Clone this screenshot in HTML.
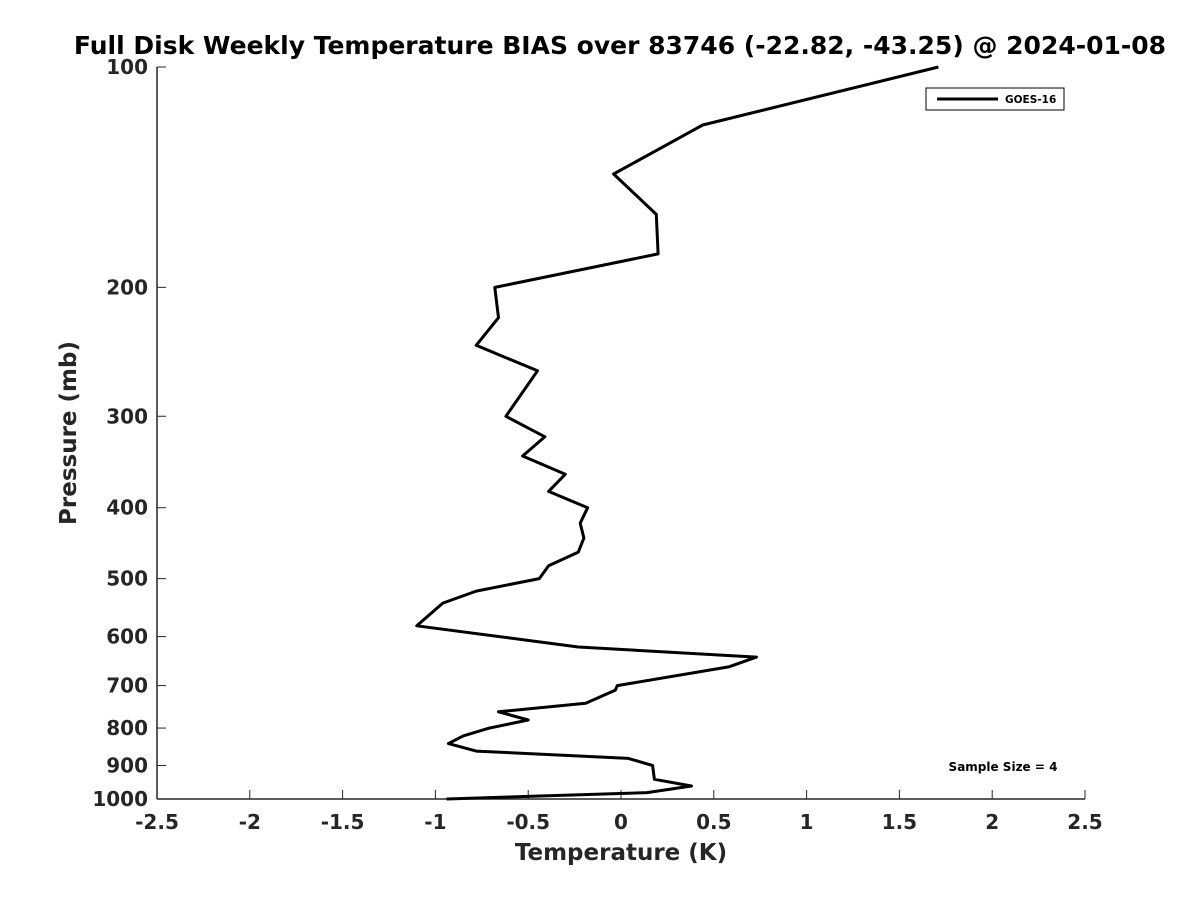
<!DOCTYPE html>
<html><head><meta charset="utf-8"><style>
body{margin:0;background:#fff;}
svg{display:block;font-family:"DejaVu Sans","Liberation Sans",sans-serif;font-weight:bold;}
</style></head><body>
<svg id="chart" width="1200" height="900" xmlns="http://www.w3.org/2000/svg">
<text x="620" y="54" text-anchor="middle" font-size="25" fill="#000">Full Disk Weekly Temperature BIAS over 83746 (-22.82, -43.25) @ 2024-01-08</text>
<g id="axes"></g>
<path id="line" fill="none" stroke="#000" stroke-width="3" stroke-linejoin="round"></path>
<g>
<rect x="926" y="88" width="138" height="22" fill="#fff" stroke="#000" stroke-width="1"/>
<line x1="937" y1="99" x2="998" y2="99" stroke="#000" stroke-width="3"/>
<text x="1005" y="103" font-size="10.5" fill="#000">GOES-16</text>
</g>
<text x="1003" y="771" text-anchor="middle" font-size="12" fill="#000">Sample Size = 4</text>
<text x="621" y="860" text-anchor="middle" font-size="23" fill="#262626">Temperature (K)</text>
<text transform="translate(76,433) rotate(-90)" text-anchor="middle" font-size="23" fill="#262626">Pressure (mb)</text>
</svg>
<script>
const temps=[1.71,0.44,-0.04,0.19,0.20,-0.68,-0.66,-0.78,-0.45,-0.62,-0.41,-0.53,-0.30,-0.39,-0.18,-0.22,-0.20,-0.23,-0.39,-0.44,-0.78,-0.96,-1.10,-0.23,0.73,0.58,-0.02,-0.03,-0.19,-0.66,-0.50,-0.71,-0.85,-0.93,-0.78,0.04,0.17,0.18,0.38,0.14,-0.94];
const pressures=[100,120,140,159,180,200,220,240,260,300,320,340,360,380,400,420,440,460,480,500,520,540,580,620,640,660,700,710,740,760,780,800,820,840,860,880,900,940,960,980,1000];
const xTicks=[-2.5,-2,-1.5,-1,-0.5,0,0.5,1,1.5,2,2.5];
const yTicks=[100,200,300,400,500,600,700,800,900,1000];
const L=157,R=1085,T=67,B=799;
const xs=v=>L+(v+2.5)/5*(R-L);
const ys=p=>T+Math.log10(p/100)*(B-T);
const NS="http://www.w3.org/2000/svg";
const ax=document.getElementById('axes');
function mk(tag,attrs,txt){const e=document.createElementNS(NS,tag);for(const k in attrs)e.setAttribute(k,attrs[k]);if(txt!==undefined)e.textContent=txt;ax.appendChild(e);return e;}
let e=mk('line',{x1:L,y1:B,x2:R,y2:B,stroke:'#262626','stroke-width':1.5});


e=mk('line',{x1:L,y1:T,x2:L,y2:B,stroke:'#262626','stroke-width':1.5});


xTicks.forEach(v=>{const x=xs(v);
e=mk('line',{x1:x,y1:B,x2:x,y2:B-9,stroke:'#262626','stroke-width':1});


e=mk('text',{x:x,y:B+30,'text-anchor':'middle','font-size':20,fill:'#262626'},String(v));


});
yTicks.forEach(p=>{const y=ys(p);
e=mk('line',{x1:L,y1:y,x2:L+9,y2:y,stroke:'#262626','stroke-width':1});


e=mk('text',{x:L-9,y:y+7,'text-anchor':'end','font-size':20,fill:'#262626'},String(p));


});
document.getElementById('line').setAttribute('d',temps.map((t,i)=>(i?'L':'M')+xs(t).toFixed(1)+' '+ys(pressures[i]).toFixed(1)).join(' '));
</script>
</body></html>
